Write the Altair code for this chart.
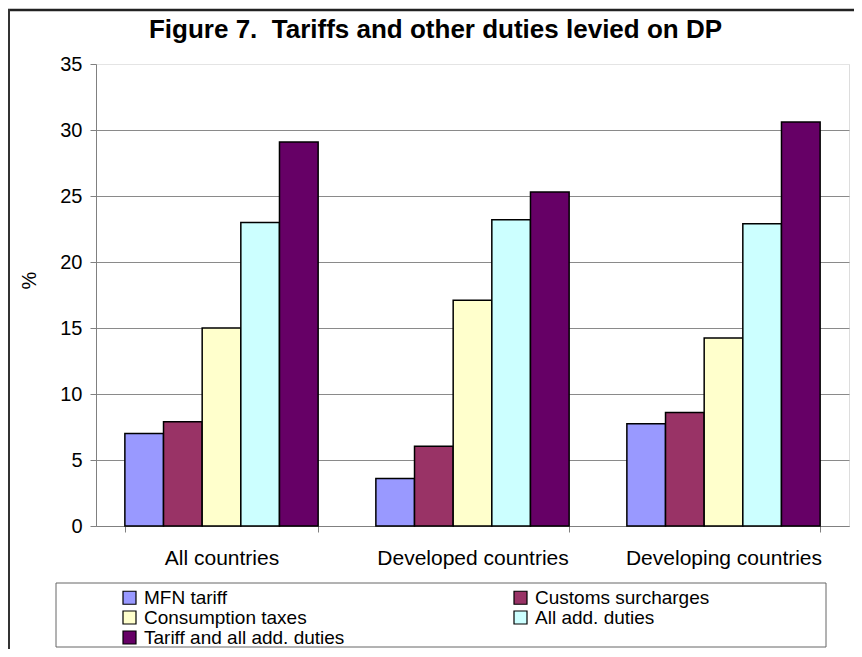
import altair as alt
import pandas as pd

regions = ["All countries", "Developed countries", "Developing countries"]
series = ["MFN tariff", "Customs surcharges", "Consumption taxes",
          "All add. duties", "Tariff and all add. duties"]
colors = ["#9999FF", "#993366", "#FFFFCC", "#CCFFFF", "#660066"]

mfn_tariff = [7.0, 3.6, 7.75]
customs_surcharges = [7.9, 6.05, 8.6]
consumption_taxes = [15.0, 17.1, 14.25]
all_add_duties = [23.0, 23.2, 22.9]
tariff_and_all = [29.1, 25.3, 30.6]

y_ticks = [0, 5, 10, 15, 20, 25, 30, 35]
title_text = "Figure 7.\u00a0\u00a0Tariffs and other duties levied on DP"

values_by_series = [mfn_tariff, customs_surcharges, consumption_taxes,
                    all_add_duties, tariff_and_all]
rows = []
for s, vals in zip(series, values_by_series):
    for r, v in zip(regions, vals):
        rows.append({"Region": r, "Series": s, "Value": v})
df = pd.DataFrame(rows)

FONT = "Liberation Sans"

bars = alt.Chart(df).mark_bar(stroke="black", strokeWidth=1.5).encode(
    x=alt.X("Region:N", sort=regions, title=None,
            scale=alt.Scale(paddingInner=0.23, paddingOuter=0.115),
            axis=alt.Axis(labelAngle=0, labelFontSize=21, labelFont=FONT,
                          labelColor="black", labelPadding=15, tickSize=6,
                          labelLimit=400,
                          tickBand="extent", domainColor="#808080",
                          tickColor="#808080", grid=False)),
    xOffset=alt.XOffset("Series:N", sort=series,
                        scale=alt.Scale(paddingInner=0, paddingOuter=0)),
    y=alt.Y("Value:Q", title="%",
            scale=alt.Scale(domain=[0, 35], nice=False),
            axis=alt.Axis(values=y_ticks, labelFontSize=20, labelFont=FONT,
                          labelColor="black", labelPadding=8, tickSize=6,
                          domainColor="#808080", tickColor="#808080",
                          gridColor={"condition": {"test": "datum.value === 35", "value": "#e4e4e4"},
                                     "value": "#8a8a8a"},
                          gridWidth=1.2,
                          titleFont=FONT, titleFontSize=20, titleFontWeight="normal",
                          titleColor="black", titleAngle=270, titleX=-67, titleY=216,
                          titleAlign="center", titleBaseline="middle")),
    color=alt.Color("Series:N", sort=series,
                    scale=alt.Scale(domain=series, range=colors),
                    legend=alt.Legend(orient="none", legendX=24, legendY=524,
                                      direction="horizontal",
                                      columns=2, columnPadding=166, rowPadding=-1,
                                      symbolType="square", symbolSize=169,
                                      symbolStrokeColor="black", symbolStrokeWidth=1.2,
                                      symbolOpacity=1,
                                      labelFontSize=19, labelFont=FONT, labelColor="black",
                                      labelOffset=5, labelLimit=500, title=None, padding=0)),
)

one = pd.DataFrame({"k": [0]})

legend_box = alt.Chart(one).mark_rect(fill="white", fillOpacity=0, stroke="#666666",
                                      strokeWidth=1).encode(
    x=alt.value(-40), x2=alt.value(730), y=alt.value(519), y2=alt.value(583))

top_border = alt.Chart(one).mark_rule(color="#222222", strokeWidth=2.5).encode(
    x=alt.value(-88), x2=alt.value(760), y=alt.value(-54))
left_border = alt.Chart(one).mark_rule(color="#333333", strokeWidth=2).encode(
    x=alt.value(-87), y=alt.value(-55), y2=alt.value(590))

chart = alt.layer(legend_box, top_border, left_border, bars).properties(
    width=753, height=462,
    autosize=alt.AutoSizeParams(type="none"),
    padding={"left": 88, "top": 56, "right": 5, "bottom": 123},
    title=alt.Title(title_text, font=FONT, fontSize=26, fontWeight="bold",
                    color="black", anchor="middle", dx=-37, offset=-61,
                    baseline="bottom"),
).configure_view(stroke=None).configure(background="white")

chart.save("out.html", embed_options={"renderer": "svg", "actions": False})
